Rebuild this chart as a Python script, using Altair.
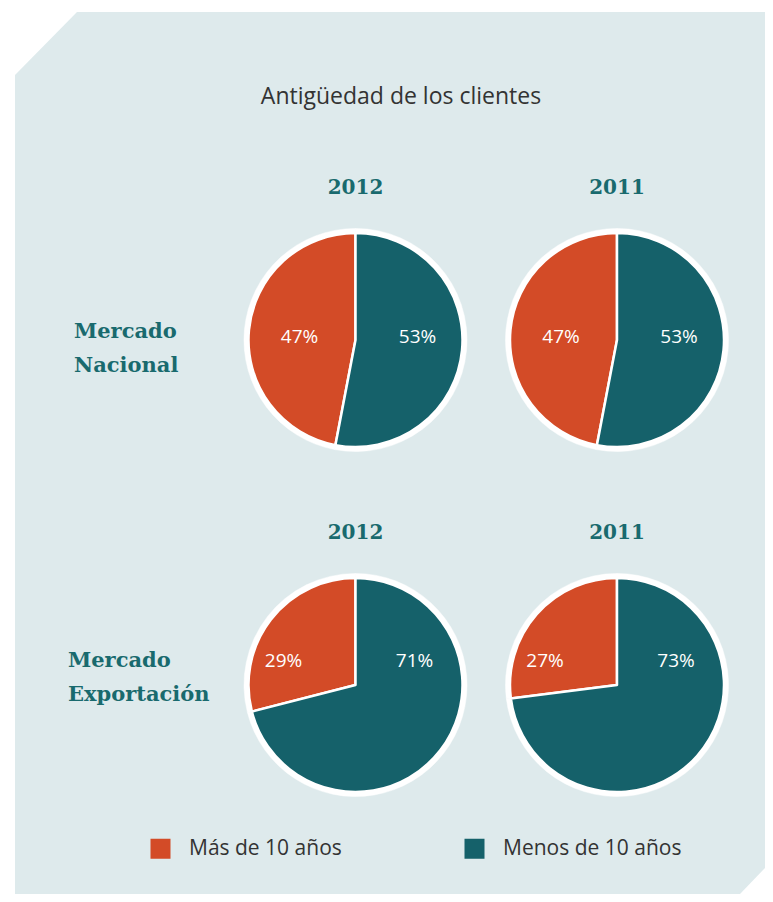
import altair as alt
import pandas as pd

# ---- data ----
years = ["2012", "2011"]
markets = ["Mercado Nacional", "Mercado Exportación"]
categories = ["Más de 10 años", "Menos de 10 años"]
mas_nacional = [47, 47]       # 2012, 2011
menos_nacional = [53, 53]
mas_export = [29, 27]
menos_export = [71, 73]
title_text = "Antigüedad de los clientes"

rows = []
for i, yr in enumerate(years):
    rows.append({"market": markets[0], "year": yr, "cat": categories[0], "value": mas_nacional[i], "order": 1})
    rows.append({"market": markets[0], "year": yr, "cat": categories[1], "value": menos_nacional[i], "order": 0})
    rows.append({"market": markets[1], "year": yr, "cat": categories[0], "value": mas_export[i], "order": 1})
    rows.append({"market": markets[1], "year": yr, "cat": categories[1], "value": menos_export[i], "order": 0})
df = pd.DataFrame(rows)

ORANGE = "#d34b27"
TEAL = "#15616a"
TEXT_TEAL = "#196a6e"
BG = "#deeaec"
W, H = 757, 886

x_enc = alt.X("year:N", scale=alt.Scale(type="point", domain=years, range=[347.5, 609], padding=0), axis=None)
y_enc = alt.Y("market:N", scale=alt.Scale(type="point", domain=markets, range=[332, 677], padding=0), axis=None)
theta_scale = alt.Scale(domain=[0, 100])

# background panel with cut corners (decoration)
panel_path = "M0.07,0.67 L0.69,0.04 L7.57,0.04 L7.57,8.60 L7.32,8.86 L0.07,8.86 Z"
panel = alt.Chart(alt.Data(values=[{"p": 1}])).mark_point(
    shape=panel_path, size=40000, filled=True, fill=BG, opacity=1, strokeWidth=0
).encode(x=alt.value(0), y=alt.value(0))

title = alt.Chart(alt.Data(values=[{"t": title_text}])).mark_text(
    font="Open Sans", fontSize=23, color="#333333", align="center", baseline="middle"
).encode(x=alt.value(393), y=alt.value(89), text="t:N")

base = alt.Chart(df).transform_stack(
    stack="value", groupby=["market", "year"], as_=["v0", "v1"],
    sort=[alt.SortField("order", order="ascending")]
)

disc = base.mark_arc(radius=111.5, fill="white", stroke="white", strokeWidth=0.5).encode(
    x=x_enc, y=y_enc, theta=alt.Theta("v0:Q", scale=theta_scale), theta2="v1:Q"
)

slices = base.mark_arc(radius=107, stroke="white", strokeWidth=2.5, strokeJoin="round").encode(
    x=x_enc, y=y_enc,
    theta=alt.Theta("v0:Q", scale=theta_scale), theta2="v1:Q",
    color=alt.Color(
        "cat:N",
        scale=alt.Scale(domain=categories, range=[ORANGE, TEAL]),
        legend=alt.Legend(
            orient="none", legendX=142, legendY=830, direction="horizontal", title=None,
            symbolType="square", symbolSize=400, symbolStrokeWidth=0, symbolOpacity=1,
            labelFont="Open Sans", labelFontSize=21, labelColor="#333333",
            labelOffset=18, columnPadding=122, padding=0, labelLimit=400,
        ),
    ),
)

pct = alt.Chart(df).transform_calculate(label="datum.value + '%'")

def pct_layer(cat, market, dx, dy):
    return pct.transform_filter(
        (alt.datum.cat == cat) & (alt.datum.market == market)
    ).mark_text(font="Open Sans", fontSize=19, color="white", dx=dx, dy=dy).encode(
        x=x_enc, y=y_enc, text="label:N"
    )

labels = [
    pct_layer(categories[0], markets[0], -56, -3),
    pct_layer(categories[1], markets[0], 62, -3),
    pct_layer(categories[0], markets[1], -72, -24),
    pct_layer(categories[1], markets[1], 59, -24),
]

headers = alt.Chart(df).transform_filter(alt.datum.cat == categories[0]).mark_text(
    font="DejaVu Serif", fontWeight="bold", fontSize=20, color=TEXT_TEAL, dy=-152
).encode(x=x_enc, y=y_enc, text="year:N")

def row_label(market, xpos, dy):
    return alt.Chart(df).transform_filter(
        (alt.datum.cat == categories[0]) & (alt.datum.year == years[0]) & (alt.datum.market == market)
    ).mark_text(
        font="DejaVu Serif", fontWeight="bold", fontSize=21, color=TEXT_TEAL,
        align="left", baseline="middle", lineBreak=" ", lineHeight=34, dy=dy
    ).encode(x=alt.value(xpos), y=y_enc, text="market:N")

rowlabels = [row_label(markets[0], 66, -8), row_label(markets[1], 60, -24)]

chart = alt.layer(panel, title, disc, slices, *labels, headers, *rowlabels).properties(
    width=W, height=H, autosize=alt.AutoSizeParams(type="none"), padding=0, background="white"
).configure_view(stroke=None)

chart.save("out.html", embed_options={"renderer": "svg", "actions": False})
